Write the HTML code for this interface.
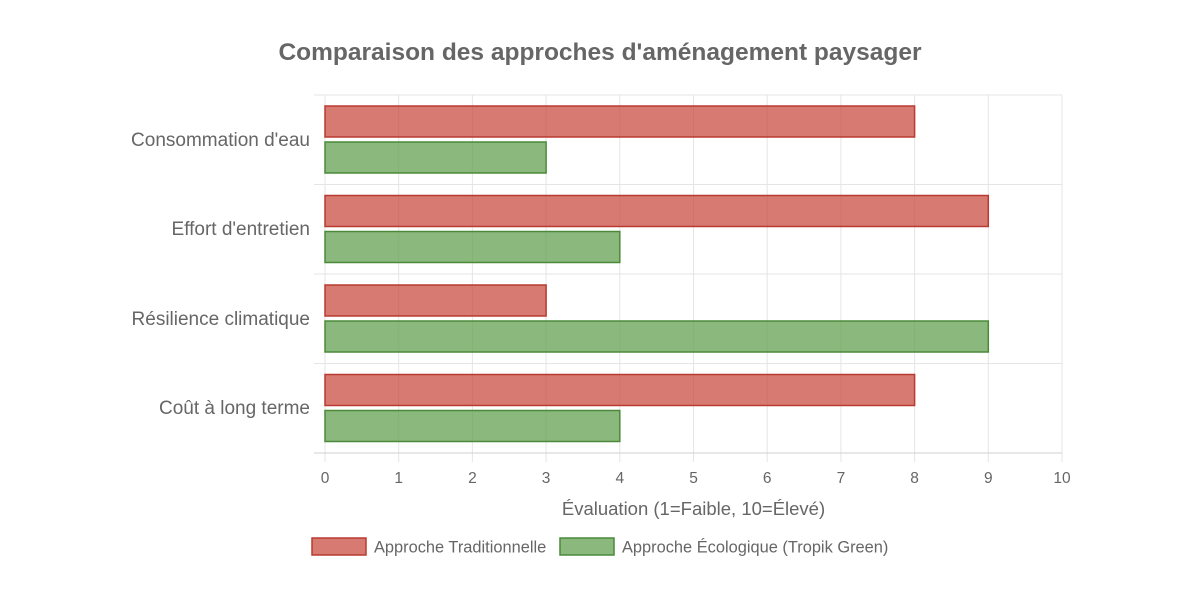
<!DOCTYPE html>
<html><head><meta charset="utf-8"><style>body{margin:0;background:#fff}svg{display:block}</style></head><body>
<svg width="1200" height="599" viewBox="0 0 1200 599" font-family="Liberation Sans, Helvetica, Arial, sans-serif">
<rect width="1200" height="599" fill="#fff"/>
<text x="600" y="60" text-anchor="middle" font-size="24.5" font-weight="bold" fill="#666">Comparaison des approches d'aménagement paysager</text>
<g stroke="#e5e5e5" stroke-width="1">
<line x1="325" y1="95" x2="325" y2="462"/>
<line x1="398.7" y1="95" x2="398.7" y2="462"/>
<line x1="472.4" y1="95" x2="472.4" y2="462"/>
<line x1="546.1" y1="95" x2="546.1" y2="462"/>
<line x1="619.8" y1="95" x2="619.8" y2="462"/>
<line x1="693.5" y1="95" x2="693.5" y2="462"/>
<line x1="767.2" y1="95" x2="767.2" y2="462"/>
<line x1="840.9" y1="95" x2="840.9" y2="462"/>
<line x1="914.6" y1="95" x2="914.6" y2="462"/>
<line x1="988.3" y1="95" x2="988.3" y2="462"/>
<line x1="1062" y1="95" x2="1062" y2="462"/>
<line x1="314" y1="95" x2="1062" y2="95"/>
<line x1="314" y1="184.5" x2="1062" y2="184.5"/>
<line x1="314" y1="274" x2="1062" y2="274"/>
<line x1="314" y1="363.5" x2="1062" y2="363.5"/>
<line x1="314" y1="453" x2="1062" y2="453" stroke="#d0d0d0"/>
</g>
<g fill="rgba(200,70,60,0.72)" stroke="#b83a30" stroke-width="1.5">
<rect x="325" y="106" width="589.6" height="31"/>
<rect x="325" y="195.5" width="663.3" height="31"/>
<rect x="325" y="285" width="221.1" height="31"/>
<rect x="325" y="374.5" width="589.6" height="31"/>
</g>
<g fill="rgba(100,160,80,0.75)" stroke="#4a8a38" stroke-width="1.5">
<rect x="325" y="142" width="221.1" height="31"/>
<rect x="325" y="231.5" width="294.8" height="31"/>
<rect x="325" y="321" width="663.3" height="31"/>
<rect x="325" y="410.5" width="294.8" height="31"/>
</g>
<g font-size="19" fill="#666" text-anchor="end">
<text x="310" y="146">Consommation d'eau</text>
<text x="310" y="235">Effort d'entretien</text>
<text x="310" y="325">Résilience climatique</text>
<text x="310" y="414">Coût à long terme</text>
</g>
<g font-size="15.5" fill="#666" text-anchor="middle">
<text x="325" y="483">0</text><text x="398.7" y="483">1</text><text x="472.4" y="483">2</text><text x="546.1" y="483">3</text><text x="619.8" y="483">4</text><text x="693.5" y="483">5</text><text x="767.2" y="483">6</text><text x="840.9" y="483">7</text><text x="914.6" y="483">8</text><text x="988.3" y="483">9</text><text x="1062" y="483">10</text>
</g>
<text x="693.5" y="515" text-anchor="middle" font-size="18.5" fill="#666">Évaluation (1=Faible, 10=Élevé)</text>
<rect x="312" y="538" width="54" height="17" fill="rgba(200,70,60,0.72)" stroke="#b83a30" stroke-width="1.5"/>
<text x="374" y="552.5" font-size="16.4" fill="#666">Approche Traditionnelle</text>
<rect x="560" y="538" width="54" height="17" fill="rgba(100,160,80,0.75)" stroke="#4a8a38" stroke-width="1.5"/>
<text x="622" y="552.5" font-size="16.4" fill="#666">Approche Écologique (Tropik Green)</text>
</svg>
</body></html>
